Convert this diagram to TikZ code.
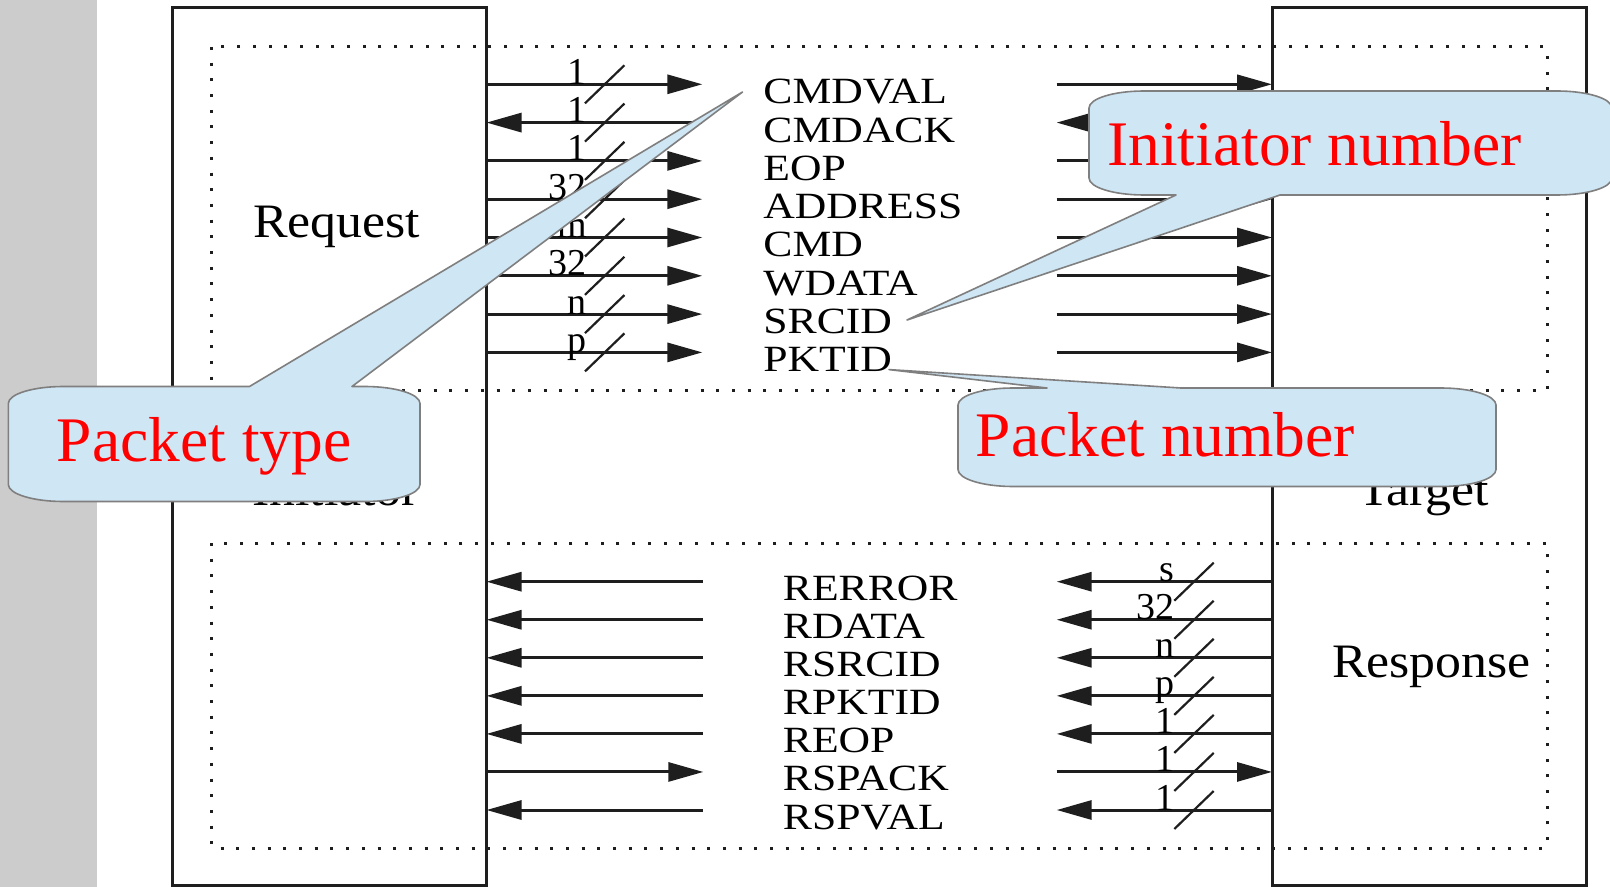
\documentclass[tikz,border=0pt]{standalone}
\usepackage{fontspec}
\setmainfont{Liberation Serif}
\usepackage{graphicx}
\usetikzlibrary{arrows.meta}
\definecolor{stripgrey}{HTML}{CCCCCC}
\definecolor{callfill}{HTML}{CFE6F4}
\definecolor{callline}{HTML}{7F7F7F}
\definecolor{ink}{HTML}{1E1E1E}
\definecolor{callred}{HTML}{FF0000}
\newcommand\wid[1]{\scalebox{1.18}[1]{#1}}
\newcommand\bigwid[1]{\scalebox{1.08}[1]{#1}}
\begin{document}
\begin{tikzpicture}[x=0.5pt,y=-0.5pt,
  box/.style={draw=ink,line width=1.5pt,inner sep=0,outer sep=0,anchor=north west,minimum width=157pt,minimum height=438.5pt},
  dotbox/.style={draw=ink,line width=1.5pt,dash pattern=on 1.5pt off 6.35pt},
  sigR/.style={draw=ink,line width=1.5pt,-{Triangle[length=17.5pt,width=9.5pt]}},
  sigL/.style={draw=ink,line width=1.5pt,{Triangle[length=17.5pt,width=9.5pt]}-},
  slash/.style={draw=ink,line width=1.1pt},
  signame/.style={inner sep=0,anchor=base west,font=\fontsize{18.5pt}{21pt}\selectfont},
  buslab/.style={inner sep=0,anchor=base east,font=\fontsize{19pt}{22pt}\selectfont},
  biglab/.style={inner sep=0,anchor=base west,font=\fontsize{24pt}{28pt}\selectfont},
  callout/.style={fill=callfill,draw=callline,line width=0.8pt,line join=round},
  calltext/.style={inner sep=0,anchor=base west,text=callred,font=\fontsize{31.75pt}{36pt}\selectfont}
]
\useasboundingbox (0,0) rectangle (1610,887);
\clip (0,0) rectangle (1610,887);
\fill[white] (0,0) rectangle (1610,887);
\fill[stripgrey] (0,0) rectangle (96.5,887);

% component boxes
\node[box] (init) at (172.5,8) {};
\node[box] (targ) at (1272,8) {};

% dotted frames
\draw[dotbox] (211.5,47) rectangle (1547,390);
\draw[dotbox] (211.5,543) rectangle (1547,848);

% big labels
\node[biglab] (req) at (252.6,238) {\bigwid{Request}};
\node[biglab] (ini) at (251.6,505) {\bigwid{Initiator}};
\node[biglab] (tgt) at (1358,505) {\bigwid{Target}};
\node[biglab] (rsp) at (1331.7,677.5) {\bigwid{Response}};

% request signals
\foreach \i/\y/\d/\lab/\nm in {1/84.3/sigR/1/CMDVAL, 2/122.6/sigL/1/CMDACK, 3/160.9/sigR/1/EOP,
   4/199.2/sigR/32/ADDRESS, 5/237.5/sigR/m/CMD, 6/275.8/sigR/32/WDATA, 7/314.1/sigR/n/SRCID, 8/352.4/sigR/p/PKTID} {
  \coordinate (TL\i) at (702.3,\y);
  \coordinate (TR\i) at (1056.6,\y);
  \coordinate (TS\i) at (604.7,\y);
  \draw[\d] (init.east |- TL\i) -- (TL\i);
  \draw[\d] (TR\i) -- (targ.west |- TR\i);
  \draw[slash] ([shift={(-19.7,19)}]TS\i) -- ([shift={(19.7,-19)}]TS\i);
  \node[buslab] (tb\i) at (587,\y) {\lab};
  \node[signame] (tn\i) at (763,\y+19.5) {\wid{\nm}};
}

% response signals
\foreach \i/\y/\d/\lab/\nm in {1/581.7/sigL/s/RERROR, 2/619.75/sigL/32/RDATA, 3/657.8/sigL/n/RSRCID,
   4/695.85/sigL/p/RPKTID, 5/733.9/sigL/1/REOP, 6/771.95/sigR/1/RSPACK, 7/810/sigL/1/RSPVAL} {
  \coordinate (BL\i) at (703.3,\y);
  \coordinate (BR\i) at (1056.7,\y);
  \coordinate (BS\i) at (1194,\y);
  \draw[\d] (init.east |- BL\i) -- (BL\i);
  \draw[\d] (BR\i) -- (targ.west |- BR\i);
  \draw[slash] ([shift={(-19.7,19)}]BS\i) -- ([shift={(19.7,-19)}]BS\i);
  \node[buslab] (bb\i) at (1175,\y) {\lab};
  \node[signame] (bn\i) at (782.5,\y+19) {\wid{\nm}};
}

% callout: Packet type
\coordinate (ptip) at (742.5,92);
\path[callout] (63.3,386.5) -- (249.5,386.5) -- (ptip) -- (352,386.5) -- (365,386.5)
  .. controls (395.4,386.5) and (420,394.1) .. (420,403.5) -- (420,484.5)
  .. controls (420,493.9) and (395.4,501.5) .. (365,501.5) -- (63.3,501.5)
  .. controls (32.9,501.5) and (8.3,493.9) .. (8.3,484.5) -- (8.3,403.5)
  .. controls (8.3,394.1) and (32.9,386.5) .. (63.3,386.5) -- cycle;
\node[calltext] (ptype) at (56.5,461) {Packet type};

% callout: Initiator number
\coordinate (itip) at (907,320);
\path[callout] (1144,91) -- (1557,91)
  .. controls (1587.4,91) and (1612,98.6) .. (1612,108) -- (1612,178)
  .. controls (1612,187.4) and (1587.4,195) .. (1557,195) -- (1280,195) -- (itip) -- (1176,195) -- (1144,195)
  .. controls (1113.6,195) and (1089,187.4) .. (1089,178) -- (1089,108)
  .. controls (1089,98.6) and (1113.6,91) .. (1144,91) -- cycle;
\node[calltext] (inum) at (1107,165.3) {Initiator number};

% callout: Packet number
\coordinate (ntip) at (889,369.6);
\path[callout] (1013,388) -- (1047,388) -- (ntip) -- (1181,388) -- (1441,388)
  .. controls (1471.4,388) and (1496,395.6) .. (1496,405) -- (1496,469.5)
  .. controls (1496,478.9) and (1471.4,486.5) .. (1441,486.5) -- (1013,486.5)
  .. controls (982.6,486.5) and (958,478.9) .. (958,469.5) -- (958,405)
  .. controls (958,395.6) and (982.6,388) .. (1013,388) -- cycle;
\node[calltext] (pnum) at (975.5,456) {Packet number};
\end{tikzpicture}
\end{document}
